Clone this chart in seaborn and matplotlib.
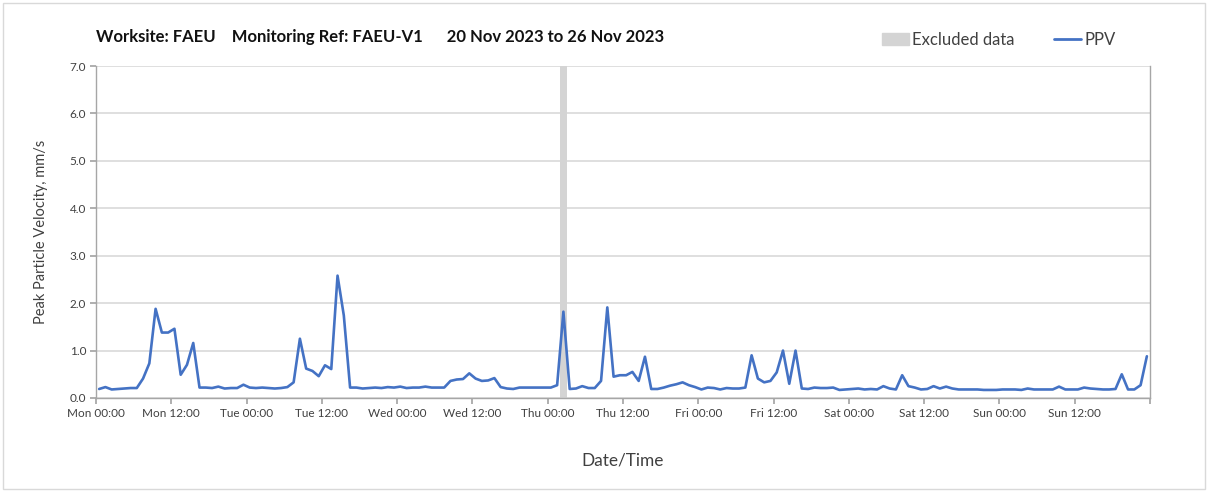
import matplotlib
matplotlib.use("Agg")
import matplotlib.pyplot as plt
import matplotlib.dates as mdates
import matplotlib.patches as mpatches
from matplotlib.lines import Line2D
import numpy as np
import pandas as pd
import seaborn as sns

# hourly PPV readings (mm/s), Mon 20 Nov 2023 .. Sun 26 Nov 2023
mon = [0.19, 0.23, 0.18, 0.19, 0.20, 0.21, 0.21, 0.41, 0.73, 1.88, 1.38, 1.38,
       1.46, 0.49, 0.70, 1.16, 0.22, 0.22, 0.21, 0.24, 0.20, 0.21, 0.21, 0.28]
tue = [0.22, 0.21, 0.22, 0.21, 0.20, 0.21, 0.23, 0.33, 1.25, 0.62, 0.57, 0.46,
       0.69, 0.61, 2.58, 1.74, 0.22, 0.22, 0.20, 0.21, 0.22, 0.21, 0.23, 0.22]
wed = [0.24, 0.21, 0.22, 0.22, 0.24, 0.22, 0.22, 0.22, 0.36, 0.39, 0.40, 0.52,
       0.41, 0.36, 0.37, 0.42, 0.23, 0.20, 0.19, 0.22, 0.22, 0.22, 0.22, 0.22]
thu = [0.22, 0.27, 1.82, 0.19, 0.20, 0.25, 0.21, 0.21, 0.36, 1.91, 0.45, 0.48,
       0.48, 0.55, 0.36, 0.87, 0.19, 0.19, 0.22, 0.26, 0.29, 0.33, 0.27, 0.23]
fri = [0.18, 0.22, 0.21, 0.18, 0.21, 0.20, 0.20, 0.22, 0.90, 0.41, 0.33, 0.36,
       0.54, 1.00, 0.30, 1.00, 0.20, 0.19, 0.22, 0.21, 0.21, 0.22, 0.17, 0.18]
sat = [0.19, 0.20, 0.18, 0.19, 0.18, 0.25, 0.20, 0.18, 0.48, 0.25, 0.22, 0.18,
       0.19, 0.25, 0.20, 0.24, 0.20, 0.18, 0.18, 0.18, 0.18, 0.17, 0.17, 0.17]
sun = [0.18, 0.18, 0.18, 0.17, 0.20, 0.18, 0.18, 0.18, 0.18, 0.24, 0.18, 0.18,
       0.18, 0.22, 0.20, 0.19, 0.18, 0.18, 0.19, 0.50, 0.18, 0.18, 0.27, 0.88]

start = "2023-11-20 00:00"
end = "2023-11-27 00:00"
excluded_start = "2023-11-23 02:00"
excluded_end = "2023-11-23 03:00"

ppv = mon + tue + wed + thu + fri + sat + sun
times = pd.date_range("2023-11-20 00:30", periods=len(ppv), freq="h")
df = pd.DataFrame({"time": times, "ppv": ppv})

sns.set_theme(style="white")
plt.rcParams["font.family"] = ["Lato", "DejaVu Sans"]

blue = "#4472C4"
grid_c = "#d9d9d9"
text_c = "#404040"

fig = plt.figure(figsize=(12.08, 4.92), dpi=100)
ax = fig.add_axes([96 / 1208, 1 - 398 / 492, (1150 - 96) / 1208, (398 - 66) / 492])

ax.axvspan(pd.Timestamp(excluded_start), pd.Timestamp(excluded_end),
           color="#d4d4d4", lw=0, zorder=1)
sns.lineplot(data=df, x="time", y="ppv", ax=ax, color=blue, lw=1.9, zorder=3)

ax.set_xlim(pd.Timestamp(start), pd.Timestamp(end))
ax.set_ylim(0, 7)
ax.set_yticks(np.arange(0, 7.1, 1.0))
ax.yaxis.set_major_formatter(matplotlib.ticker.FormatStrFormatter("%.1f"))

end_num = mdates.date2num(pd.Timestamp(end))


def fmt_time(x, pos):
    if abs(x - end_num) < 1e-6:
        return ""
    return mdates.num2date(x).strftime("%a %H:%M")


ax.xaxis.set_major_locator(mdates.HourLocator(byhour=[0, 12]))
ax.xaxis.set_major_formatter(matplotlib.ticker.FuncFormatter(fmt_time))
ax.xaxis.set_minor_locator(mdates.DayLocator())

ax.grid(axis="y", which="major", color=grid_c, lw=1.2)
ax.grid(axis="x", which="minor", color=grid_c, lw=1.2)
ax.grid(axis="x", which="major", visible=False)
ax.set_axisbelow(True)

for side in ["left", "bottom", "right"]:
    ax.spines[side].set_color("#a6a6a6")
    ax.spines[side].set_linewidth(1.0)
ax.spines["top"].set_visible(False)

ax.tick_params(axis="both", which="major", direction="out", length=4,
               color="#a6a6a6", labelsize=8.5, labelcolor=text_c, pad=3)
ax.tick_params(axis="x", which="minor", length=0)
ax.tick_params(axis="x", which="major", bottom=True)
ax.tick_params(axis="y", left=True)

ax.set_xlabel("Date/Time", fontsize=12.4, color=text_c, labelpad=24)
ax.set_ylabel("Peak Particle Velocity, mm/s", fontsize=10.5, color=text_c, labelpad=16)

fig.text(96 / 1208, 1 - 37 / 492,
         "Worksite: FAEU    Monitoring Ref: FAEU-V1      20 Nov 2023 to 26 Nov 2023",
         fontsize=12, fontweight="bold", color="#111111", va="center", ha="left")

handles = [mpatches.Patch(color="#d4d4d4", label="Excluded data"),
           Line2D([], [], color=blue, lw=2.0, label="PPV")]
fig.legend(handles=handles, loc="center right", bbox_to_anchor=(1124 / 1208, 1 - 40 / 492),
           ncol=2, frameon=False, fontsize=12, handlelength=1.6, handletextpad=0.2,
           columnspacing=2.4, labelcolor=text_c, borderpad=0.0)

fig.patches.append(mpatches.Rectangle((3 / 1208, 3 / 492), 1202 / 1208, 486 / 492,
                                      transform=fig.transFigure, fill=False,
                                      edgecolor="#d9d9d9", lw=1.0))

fig.savefig("out.png", dpi=100)
plt.close(fig)
